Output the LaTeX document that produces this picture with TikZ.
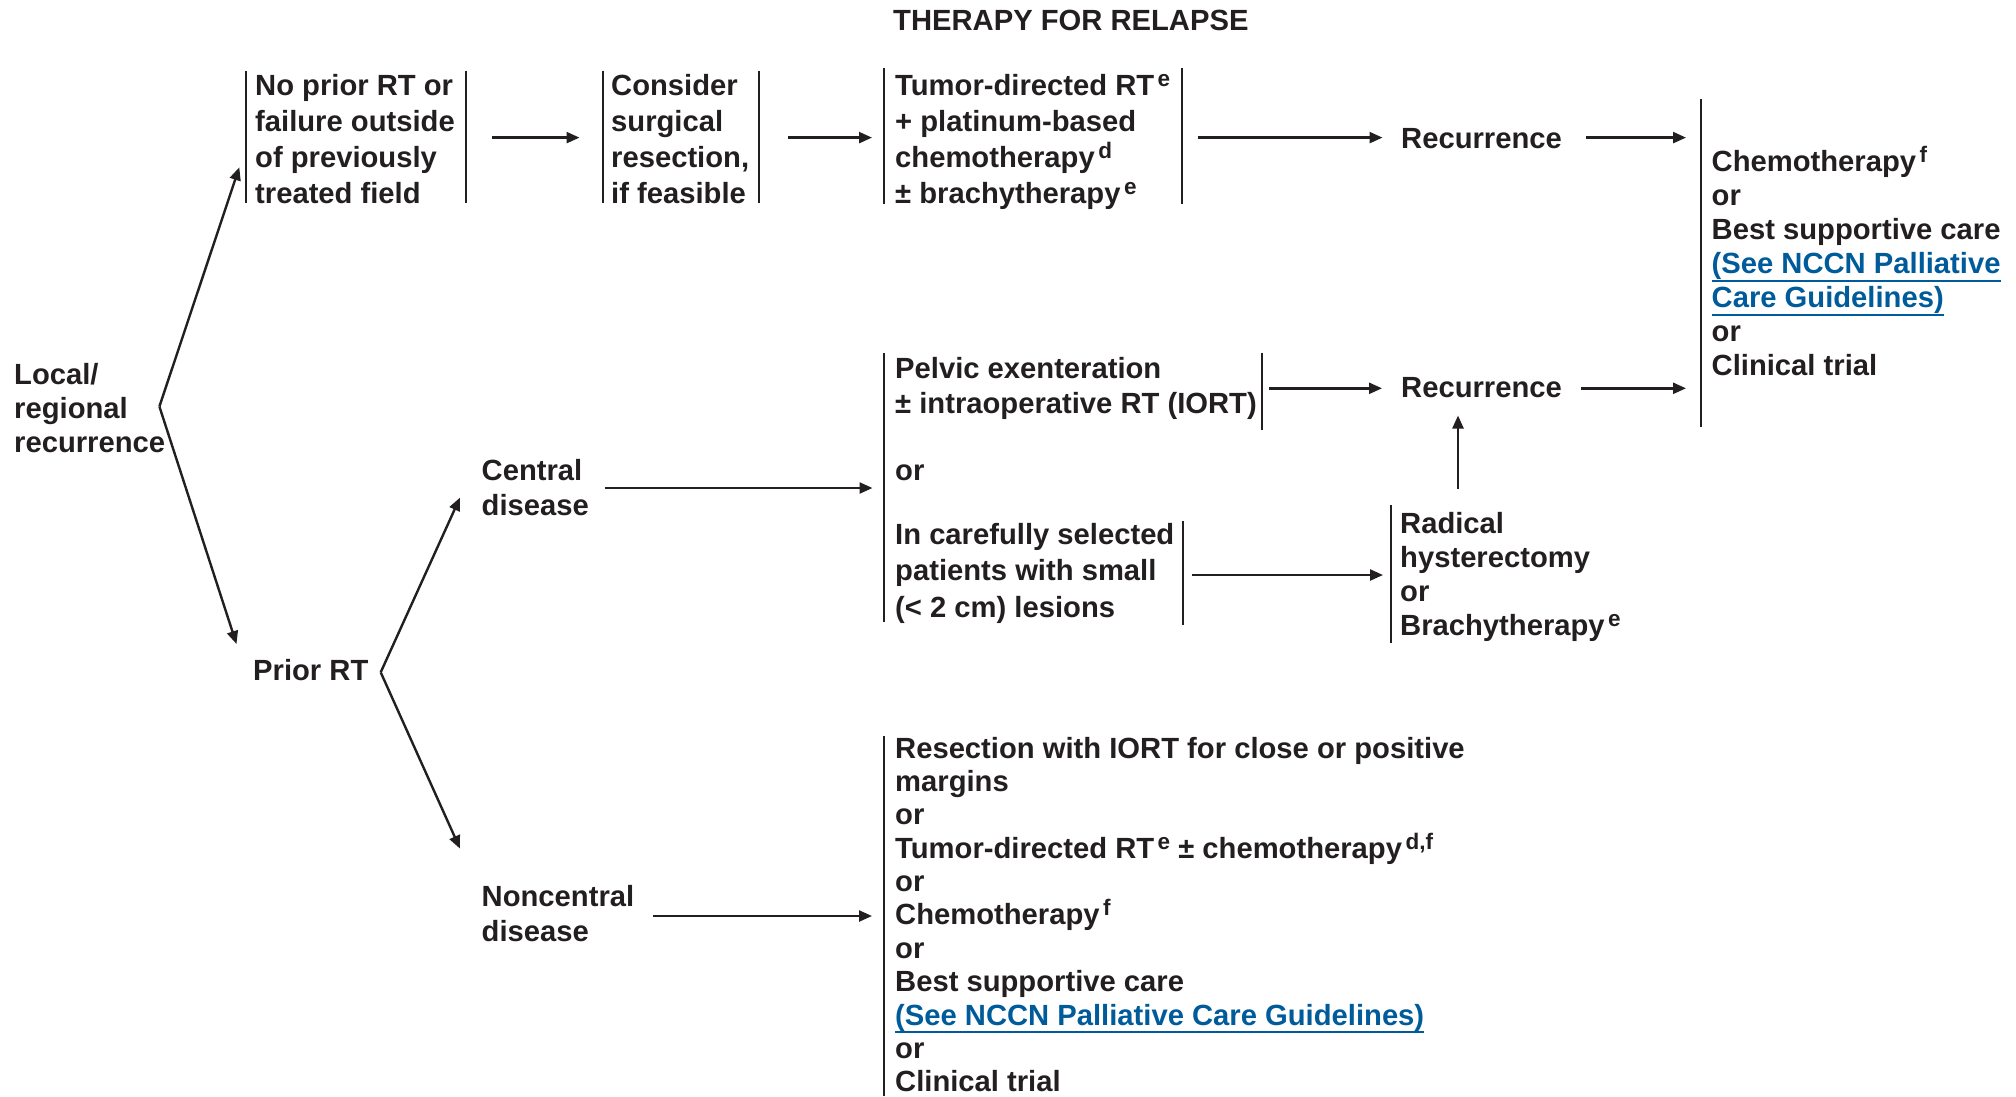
\documentclass[tikz,border=0pt]{standalone}
\usepackage{fontspec}
\setmainfont{Liberation Sans}
\usetikzlibrary{arrows.meta}
\definecolor{tc}{RGB}{35,31,32}
\definecolor{linkc}{RGB}{0,91,155}
\newcommand\fsz[1]{\bfseries\fontsize{29.2}{#1}\selectfont\lineskiplimit=-60pt\relax}
\newcommand\st{\rule{0pt}{28pt}}
\newcommand\sups[1]{\kern3.5pt\raisebox{9pt}{\fontsize{22.5}{22.5}\selectfont #1}}
\newcommand\lnk[1]{\setbox0=\hbox{#1}\textcolor{linkc}{\rlap{\rule[-8pt]{\wd0}{2pt}}#1}}
\tikzset{
  txt/.style={anchor=north west, inner sep=0pt, align=left, text=tc, font=\fsz{33.5}},
  bar/.style={line width=2pt, draw=tc},
  arr/.style={line width=2.4pt, draw=tc, -{Triangle[length=13pt,width=11pt]}},
}
\begin{document}
\begin{tikzpicture}[x=1pt,y=-1pt]
\useasboundingbox (0,0) rectangle (2016,1096);
% ---------- texts ----------
\node[txt] (title) at (893,2) {\st THERAPY FOR RELAPSE};
\node[txt, font=\fsz{34}] (local) at (14,356.5) {\st Local/\\regional\\recurrence};
\node[txt, font=\fsz{36}] (noprior) at (255,67) {\st No prior RT or\\failure outside\\of previously\\treated field};
\node[txt, font=\fsz{36}] (consider) at (611,67) {\st Consider\\surgical\\resection,\\if feasible};
\node[txt, font=\fsz{36}] (tumor) at (895,67) {\st Tumor-directed RT\sups{e}\\+ platinum-based\\chemotherapy\sups{d}\\± brachytherapy\sups{e}};
\node[txt] (rec1) at (1401,120.3) {\st Recurrence};
\node[txt, font=\fsz{33.9}] (final) at (1711.5,143.7) {\st Chemotherapy\sups{f}\\or\\Best supportive care\\\lnk{(See NCCN Palliative}\\\lnk{Care Guidelines)}\\or\\Clinical trial};
\node[txt, font=\fsz{35.5}] (pelvic) at (895,350) {\st Pelvic exenteration\\± intraoperative RT (IORT)};
\node[txt] (or1) at (895,452) {\st or};
\node[txt, font=\fsz{36.5}] (careful) at (895,516) {\st In carefully selected\\patients with small\\(< 2 cm) lesions};
\node[txt] (rec2) at (1401,369.5) {\st Recurrence};
\node[txt, font=\fsz{34}] (radical) at (1400,505) {\st Radical\\hysterectomy\\or\\Brachytherapy\sups{e}};
\node[txt] (prior) at (253,652) {\st Prior RT};
\node[txt, font=\fsz{35}] (central) at (481.5,452) {\st Central\\disease};
\node[txt, font=\fsz{35}] (noncentral) at (481.5,878.7) {\st Noncentral\\disease};
\node[txt, font=\fsz{33.35}] (options) at (895,730) {\st Resection with IORT for close or positive\\margins\\or\\Tumor-directed RT\sups{e} ± chemotherapy\sups{d,f}\\or\\Chemotherapy\sups{f}\\or\\Best supportive care\\\lnk{(See NCCN Palliative Care Guidelines)}\\or\\Clinical trial};
% ---------- bracket bars ----------
\draw[bar] (245.5,70.7) -- (245.5,203.3);
\draw[bar] (465.5,70.7) -- (465.5,203.3);
\draw[bar] (603,70.7) -- (603,203.3);
\draw[bar] (759,70.7) -- (759,203.3);
\draw[bar] (884,68) -- (884,204);
\draw[bar] (1182,68) -- (1182,204);
\draw[bar] (1700.5,99) -- (1700.5,427);
\draw[bar] (1262,352.5) -- (1262,430);
\draw[bar] (884,353) -- (884,622);
\draw[bar] (1183,521) -- (1183,625);
\draw[bar] (1390.5,505) -- (1390.5,643);
\draw[bar] (884,736) -- (884,1096);
% ---------- connector end points ----------
\coordinate (lv) at (159.4,406.5);
\coordinate (noprior-in) at (239.3,167.3);
\coordinate (prior-in) at (236.5,644);
\coordinate (pv) at (380.7,672.3);
\coordinate (central-in) at (460,497.6);
\coordinate (noncentral-in) at (460,848.6);
\coordinate (noprior-out) at (492,137.6);
\coordinate (consider-in) at (579.5,137.6);
\coordinate (consider-out) at (788,137.6);
\coordinate (tumor-in) at (872,137.6);
\coordinate (tumor-out) at (1197.5,137.6);
\coordinate (rec1-in) at (1382.5,137.6);
\coordinate (rec1-out) at (1586,137.6);
\coordinate (final-in1) at (1686,137.6);
\coordinate (pelvic-out) at (1269,388.3);
\coordinate (rec2-in) at (1382,388.3);
\coordinate (rec2-out) at (1581,388.3);
\coordinate (final-in2) at (1686,388.3);
\coordinate (radical-out) at (1458,488.6);
\coordinate (rec2-below) at (1458,415.5);
\coordinate (careful-out) at (1191.5,575);
\coordinate (radical-in) at (1383,575);
\coordinate (central-out) at (604.5,488);
\coordinate (pelvic-in) at (872.5,488);
\coordinate (noncentral-out) at (653,916);
\coordinate (options-in) at (872,916);
% ---------- connectors ----------
\draw[arr] (lv) -- (noprior-in);
\draw[arr] (lv) -- (prior-in);
\draw[arr] (pv) -- (central-in);
\draw[arr] (pv) -- (noncentral-in);
\draw[arr] (noprior-out) -- (consider-in);
\draw[arr] (consider-out) -- (tumor-in);
\draw[arr] (tumor-out) -- (rec1-in);
\draw[arr] (rec1-out) -- (final-in1);
\draw[arr] (pelvic-out) -- (rec2-in);
\draw[arr] (rec2-out) -- (final-in2);
\draw[arr] (radical-out) -- (rec2-below);
\draw[arr] (careful-out) -- (radical-in);
\draw[arr] (central-out) -- (pelvic-in);
\draw[arr] (noncentral-out) -- (options-in);
\end{tikzpicture}
\end{document}
